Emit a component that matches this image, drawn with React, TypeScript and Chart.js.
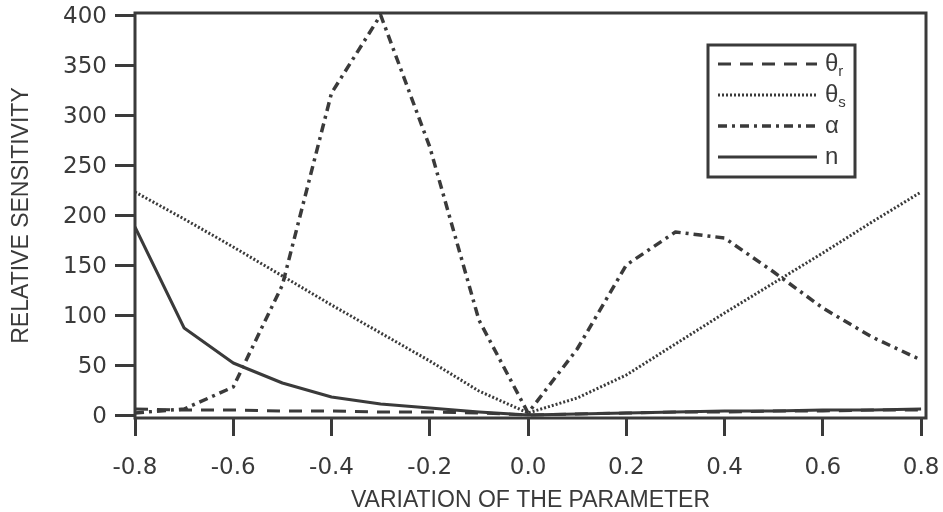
import React, { useEffect, useRef } from "react";
import { Chart, registerables } from "chart.js";

Chart.register(...registerables);

// ---- data ----
const xValues = [-0.8, -0.7, -0.6, -0.5, -0.4, -0.3, -0.2, -0.1, 0, 0.1, 0.2, 0.3, 0.4, 0.5, 0.6, 0.7, 0.8];
const thetaR = [6, 5, 5, 4, 4, 3, 3, 2, 0, 1, 2, 3, 3, 4, 4, 5, 5];
const thetaS = [223, 196, 168, 139, 110, 82, 54, 24, 2, 17, 40, 71, 102, 132, 162, 193, 223];
const alpha = [2, 6, 28, 130, 322, 400, 268, 95, 2, 66, 150, 183, 177, 143, 107, 78, 55];
const nParam = [188, 87, 52, 32, 18, 11, 7, 3, 0, 1, 2, 3, 4, 4, 5, 5, 6];

const xTicks = [-0.8, -0.6, -0.4, -0.2, 0, 0.2, 0.4, 0.6, 0.8];
const yTicks = [0, 50, 100, 150, 200, 250, 300, 350, 400];

const seriesLabels = ["θr", "θs", "α", "n"];
const legendMain = ["θ", "θ", "α", "n"];
const legendSub = ["r", "s", "", ""];

const xTitle = "VARIATION OF THE PARAMETER";
const yTitle = "RELATIVE SENSITIVITY";

const INK = "#3a3a3a";
const TEXT_FONT = "'Liberation Sans', Arial, sans-serif";
const TICK_FONT = "'DejaVu Sans', sans-serif";

const toPoints = (ys: number[]) => ys.map((y, i) => ({ x: xValues[i], y }));

const frameLegendPlugin = {
  id: "frameLegend",
  afterDatasetsDraw(chart: any) {
    const { ctx, chartArea } = chart;
    ctx.save();
    ctx.setLineDash([]);
    ctx.lineWidth = 3;
    ctx.strokeStyle = INK;
    ctx.strokeRect(
      chartArea.left,
      chartArea.top,
      chartArea.right - chartArea.left,
      chartArea.bottom - chartArea.top
    );
    ctx.restore();
  },
  afterDraw(chart: any) {
    const { ctx, chartArea } = chart;
    const boxL = chartArea.right - 218;
    const boxT = chartArea.top + 32;
    const boxW = 147;
    const boxH = 132;
    ctx.save();
    ctx.fillStyle = "#fff";
    ctx.fillRect(boxL, boxT, boxW, boxH);
    ctx.lineWidth = 3;
    ctx.strokeStyle = INK;
    ctx.setLineDash([]);
    ctx.strokeRect(boxL, boxT, boxW, boxH);
    chart.data.datasets.forEach((ds: any, i: number) => {
      const y = boxT + 19 + i * 31;
      ctx.save();
      ctx.setLineDash(ds.borderDash || []);
      ctx.lineWidth = ds.borderWidth;
      ctx.strokeStyle = ds.borderColor;
      ctx.beginPath();
      ctx.moveTo(boxL + 10, y);
      ctx.lineTo(boxL + 109, y);
      ctx.stroke();
      ctx.restore();
      ctx.fillStyle = INK;
      ctx.textBaseline = "middle";
      ctx.textAlign = "left";
      ctx.font = `24px ${TEXT_FONT}`;
      const tx = boxL + 117;
      ctx.fillText(legendMain[i], tx, y);
      if (legendSub[i]) {
        const w = ctx.measureText(legendMain[i]).width;
        ctx.font = `15px ${TEXT_FONT}`;
        ctx.fillText(legendSub[i], tx + w, y + 8);
      }
    });
    ctx.restore();
  },
};

export default function App() {
  const canvasRef = useRef<HTMLCanvasElement | null>(null);

  useEffect(() => {
    const canvas = canvasRef.current;
    if (!canvas) return;
    const common = {
      borderColor: INK,
      backgroundColor: INK,
      pointRadius: 0,
      pointHoverRadius: 0,
      tension: 0,
      fill: false,
      borderJoinStyle: "round" as const,
    };
    const chart = new Chart(canvas, {
      type: "line",
      data: {
        datasets: [
          { ...common, label: seriesLabels[0], data: toPoints(thetaR), borderWidth: 3, borderDash: [13, 9] },
          { ...common, label: seriesLabels[1], data: toPoints(thetaS), borderWidth: 3, borderDash: [2, 2] },
          { ...common, label: seriesLabels[2], data: toPoints(alpha), borderWidth: 3.5, borderDash: [9, 5, 3, 5] },
          { ...common, label: seriesLabels[3], data: toPoints(nParam), borderWidth: 3, borderDash: [] },
        ],
      },
      options: {
        animation: false,
        responsive: false,
        devicePixelRatio: 1,
        events: [],
        layout: { padding: { left: 0, top: 13, right: 17, bottom: 0 } },
        plugins: {
          legend: { display: false },
          tooltip: { enabled: false },
        },
        scales: {
          x: {
            type: "linear",
            min: -0.8,
            max: 0.81,
            afterBuildTicks: (s: any) => {
              s.ticks = xTicks.map((v) => ({ value: v }));
            },
            afterFit: (s: any) => {
              s.height = 94;
              s.paddingLeft = 0;
              s.paddingRight = 0;
            },
            grid: { drawOnChartArea: false, drawTicks: true, tickLength: 18, lineWidth: 3, color: INK },
            border: { display: false },
            ticks: {
              color: INK,
              font: { family: TICK_FONT, size: 23 },
              padding: 18,
              maxRotation: 0,
              autoSkip: false,
              callback: (v: any) => Number(v).toFixed(1),
            },
            title: {
              display: true,
              text: xTitle,
              color: INK,
              font: { family: TEXT_FONT, size: 23, lineHeight: 1 },
              padding: { top: 0, bottom: 0 },
            },
          },
          y: {
            type: "linear",
            min: -3,
            max: 402,
            afterBuildTicks: (s: any) => {
              s.ticks = yTicks.map((v) => ({ value: v }));
            },
            afterFit: (s: any) => {
              s.width = 135;
              s.paddingTop = 0;
              s.paddingBottom = 0;
            },
            grid: { drawOnChartArea: false, drawTicks: true, tickLength: 20, lineWidth: 3, color: INK },
            border: { display: false },
            ticks: {
              color: INK,
              font: { family: TICK_FONT, size: 23 },
              padding: 8,
              labelOffset: 2,
              callback: (v: any) => String(v),
            },
            title: {
              display: true,
              text: yTitle,
              color: INK,
              font: { family: TEXT_FONT, size: 23, lineHeight: 1 },
              padding: { top: 10, bottom: 0 },
            },
          },
        },
      },
      plugins: [frameLegendPlugin],
    });
    return () => chart.destroy();
  }, []);

  return (
    <div style={{ position: "absolute", left: 0, top: 0, width: 943, height: 512, background: "#fff" }}>
      <canvas ref={canvasRef} width={943} height={512} style={{ display: "block", width: 943, height: 512 }} />
    </div>
  );
}
